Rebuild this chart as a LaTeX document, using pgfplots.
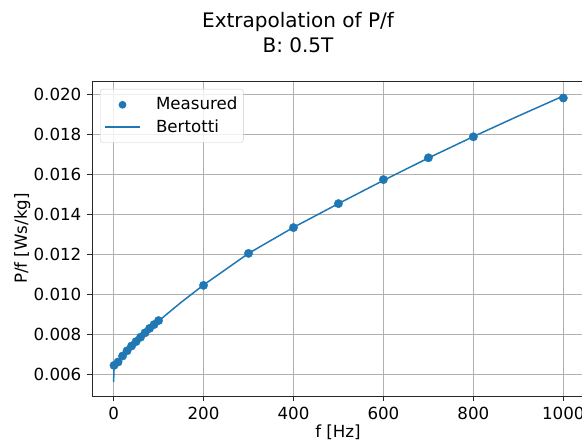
\documentclass[border=0pt]{standalone}
\usepackage{fontspec}
\setmainfont{DejaVu Sans}
\usepackage{pgfplots}
\pgfplotsset{compat=1.18}
\definecolor{c0}{HTML}{1F77B4}
\definecolor{gridc}{HTML}{B0B0B0}
\pgfplotsset{
  marklegend/.style={legend image code/.code={\path[draw=none] (0pt,-3pt) rectangle (49pt,3pt); \fill[c0, draw=none, fill opacity=1] (17.5pt,0pt) circle (3.9pt);}},
  linelegend/.style={legend image code/.code={\path[draw=none] (0pt,-3pt) rectangle (49pt,3pt); \draw[draw=c0, line width=1.6pt, opacity=1] (0pt,0pt) -- (35pt,0pt);}},
}
\begin{document}
\fontsize{16.67}{20}\selectfont
\begin{tikzpicture}[x=1pt,y=1pt]
\useasboundingbox (-92,-45) rectangle (490,396);
\begin{axis}[
  at={(0,0)}, anchor=south west,
  scale only axis, width=492pt, height=315pt,
  xmin=-48, xmax=1046, ymin=0.0049, ymax=0.02065,
  xtick={0,200,400,600,800,1000},
  ytick={0.006,0.008,0.010,0.012,0.014,0.016,0.018,0.020},
  grid=major, major grid style={gridc, line width=0.8pt},
  axis line style={line width=0.8pt, black!85},
  tick style={line width=0.8pt, black!85},
  tick align=outside, major tick length=4.9pt, tick pos=left,
  scaled y ticks=false,
  yticklabel style={/pgf/number format/.cd, fixed, fixed zerofill, precision=3},
  /pgf/number format/assume math mode=true,
  /pgf/number format/1000 sep={},
  tick label style={font=\fontsize{16.67}{20}\selectfont},
  label style={font=\fontsize{16.67}{20}\selectfont},
  xlabel={f [Hz]}, ylabel={P/f [Ws/kg]},
  ylabel style={yshift=-8pt},
  xlabel style={yshift=6pt},
  legend cell align=left,
  legend style={at={(0.0163,0.9746)}, anchor=north west,
    draw=black!20, rounded corners=3pt, fill=white, fill opacity=0.8, text opacity=1,
    font=\fontsize{16.67}{20}\selectfont, inner xsep=4pt, inner ysep=6pt,
    row sep=3pt},
]
\addplot[only marks, mark=*, mark size=4.2pt, color=c0, marklegend]
  coordinates {
  (1,0.00643) (10,0.00660) (20,0.00690) (30,0.00716) (40,0.00740)
  (50,0.00762) (60,0.00784) (70,0.00806) (80,0.00828) (90,0.00847)
  (100,0.00867) (200,0.01043) (300,0.01203) (400,0.01332) (500,0.01452)
  (600,0.01572) (700,0.01681) (800,0.01786) (1000,0.01980)
  };
\addlegendentry{Measured}
\addplot[color=c0, line width=1.5pt, line join=round, linelegend]
  coordinates {
  (0,0.00560) (1,0.00625) (2,0.00640) (5,0.00655) (10,0.00668)
  (20,0.00692) (30,0.00716) (40,0.00739) (50,0.00761) (60,0.00783)
  (70,0.00804) (80,0.00825) (90,0.00845) (100,0.00865) (150,0.00958)
  (200,0.01045) (300,0.01203) (400,0.01333) (500,0.01452) (600,0.01568)
  (700,0.01680) (800,0.01787) (900,0.01890) (1000,0.01990)
  };
\addlegendentry{Bertotti}
\end{axis}
\node[anchor=base, font=\fontsize{20}{24}\selectfont] at (206,368) {Extrapolation of P/f};
\node[anchor=base, font=\fontsize{20}{24}\selectfont] at (206,343) {B: 0.5T};
\end{tikzpicture}
\end{document}
